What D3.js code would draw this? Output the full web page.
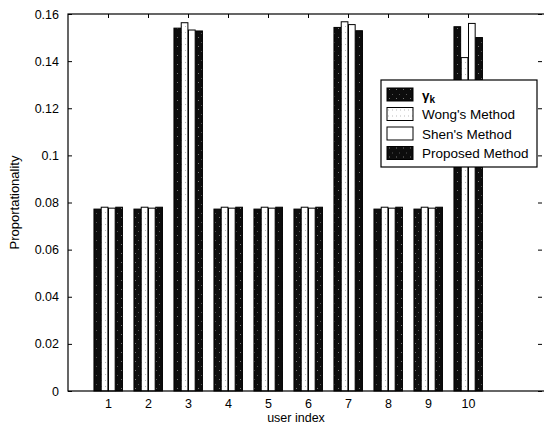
<!DOCTYPE html>
<html>
<head>
<meta charset="utf-8">
<script src="https://cdn.jsdelivr.net/npm/d3@7"></script>
<style>
body { margin: 0; background: #fff; }
text { font-family: "Liberation Sans", Arial, sans-serif; }
</style>
</head>
<body>
<div id="chart"></div>
<script>
var users = [1, 2, 3, 4, 5, 6, 7, 8, 9, 10];
var seriesNames = ["\u03b3k", "Wong's Method", "Shen's Method", "Proposed Method"];
var gammaK   = [0.0772, 0.0772, 0.1540, 0.0772, 0.0772, 0.0772, 0.1543, 0.0772, 0.0772, 0.1546];
var wong     = [0.0780, 0.0780, 0.1563, 0.0780, 0.0780, 0.0780, 0.1567, 0.0780, 0.0780, 0.1415];
var shen     = [0.0776, 0.0776, 0.1532, 0.0776, 0.0776, 0.0776, 0.1555, 0.0776, 0.0776, 0.1560];
var proposed = [0.0780, 0.0780, 0.1528, 0.0780, 0.0780, 0.0780, 0.1529, 0.0780, 0.0780, 0.1500];
var yTicks = [0, 0.02, 0.04, 0.06, 0.08, 0.1, 0.12, 0.14, 0.16];

var width = 544, height = 430;
var pLeft = 68, pRight = 548, pTop = 14, pBottom = 391;

var svg = d3.select("#chart").append("svg")
    .attr("width", width)
    .attr("height", height);

var defs = svg.append("defs");
// speckled dark fill
var pd = defs.append("pattern").attr("id", "dark")
    .attr("patternUnits", "userSpaceOnUse").attr("width", 7).attr("height", 9);
pd.append("rect").attr("width", 7).attr("height", 9).attr("fill", "#0d0d0d");
pd.append("rect").attr("x", 2).attr("y", 1).attr("width", 1).attr("height", 1).attr("fill", "#777");
pd.append("rect").attr("x", 5).attr("y", 6).attr("width", 1).attr("height", 1).attr("fill", "#555");
// light dotted fill
var pl = defs.append("pattern").attr("id", "light")
    .attr("patternUnits", "userSpaceOnUse").attr("width", 4).attr("height", 6);
pl.append("rect").attr("width", 4).attr("height", 6).attr("fill", "#fff");
pl.append("rect").attr("x", 1).attr("y", 2).attr("width", 1).attr("height", 1).attr("fill", "#bbb");

var fills = ["url(#dark)", "url(#light)", "#fff", "url(#dark)"];
var data = [gammaK, wong, shen, proposed];

var x = d3.scaleLinear().domain([0, 12]).range([pLeft, pRight]);
var y = d3.scaleLinear().domain([0, 0.16]).range([pBottom, pTop]);

var groupW = x(0.727) - x(0);
var slot = groupW / 4;

var g = svg.append("g");

data.forEach(function(vals, s) {
    g.selectAll(".bar" + s)
        .data(vals)
        .enter()
        .append("rect")
        .attr("x", function(d, i) { return x(users[i]) - groupW / 2 + s * slot + 0.5; })
        .attr("y", function(d) { return y(d); })
        .attr("width", slot - 0.6)
        .attr("height", function(d) { return y(0) - y(d); })
        .attr("fill", fills[s])
        .attr("stroke", "#000")
        .attr("stroke-width", 1);
});

// axes frame
svg.append("rect")
    .attr("x", pLeft).attr("y", pTop)
    .attr("width", pRight - pLeft).attr("height", pBottom - pTop)
    .attr("fill", "none").attr("stroke", "#000").attr("stroke-width", 1.2);

var yAxis = d3.axisLeft(y).tickValues(yTicks).tickSizeInner(-4).tickSizeOuter(0).tickPadding(9)
    .tickFormat(function(d) { return d === 0 ? "0" : String(+d.toFixed(2)); });
var ya = svg.append("g").attr("transform", "translate(" + pLeft + ",0)").call(yAxis);
ya.select(".domain").remove();
ya.selectAll("text").attr("font-size", 12.5).attr("font-family", "Liberation Sans, Arial, sans-serif");

var yAxisR = d3.axisRight(y).tickValues(yTicks).tickSizeInner(-4).tickSizeOuter(0).tickFormat("");
var yr = svg.append("g").attr("transform", "translate(" + (pRight - 6) + ",0)").call(yAxisR);
yr.select(".domain").remove();

var xAxis = d3.axisBottom(x).tickValues(users).tickSizeInner(-4).tickSizeOuter(0).tickPadding(8);
var xa = svg.append("g").attr("transform", "translate(0," + pBottom + ")").call(xAxis);
xa.select(".domain").remove();
xa.selectAll("text").attr("font-size", 12.5).attr("font-family", "Liberation Sans, Arial, sans-serif");

var xAxisT = d3.axisTop(x).tickValues(users).tickSizeInner(-4).tickSizeOuter(0).tickFormat("");
var xt = svg.append("g").attr("transform", "translate(0," + pTop + ")").call(xAxisT);
xt.select(".domain").remove();

svg.append("text")
    .attr("x", x(5.7)).attr("y", 422)
    .attr("text-anchor", "middle").attr("font-size", 12.5)
    .text("user index");

svg.append("text")
    .attr("transform", "translate(19," + ((pTop + pBottom) / 2) + ") rotate(-90)")
    .attr("text-anchor", "middle").attr("font-size", 13)
    .text("Proportationality");

// legend
var lg = svg.append("g").attr("transform", "translate(381,80)");
lg.append("rect").attr("width", 156).attr("height", 87)
    .attr("fill", "#fff").attr("stroke", "#000").attr("stroke-width", 1.2);
var items = lg.selectAll(".item").data(seriesNames).enter().append("g")
    .attr("transform", function(d, i) { return "translate(6," + (8 + i * 19.5) + ")"; });
items.append("rect").attr("width", 26).attr("height", 13)
    .attr("fill", function(d, i) { return fills[i]; })
    .attr("stroke", "#000");
items.append("text").attr("x", 35).attr("y", 11.5).attr("font-size", 13.5)
    .each(function(d, i) {
        var t = d3.select(this);
        if (i === 0) {
            t.append("tspan").attr("font-weight", "bold").text("\u03b3");
            t.append("tspan").attr("dy", 3).attr("font-size", 10).attr("font-weight", "bold").text("k");
        } else {
            t.text(d);
        }
    });
</script>
</body>
</html>
